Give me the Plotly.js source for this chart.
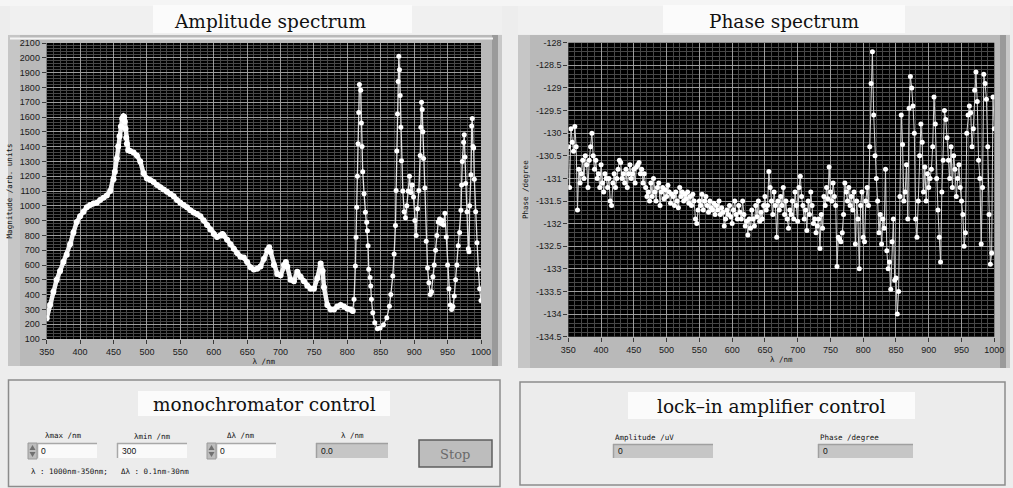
<!DOCTYPE html>
<html><head><meta charset="utf-8">
<script src="https://cdn.plot.ly/plotly-3.0.1.min.js"></script>
<style>html,body{margin:0;padding:0;background:#ededed;overflow:hidden}#chart{width:1013px;height:488px}</style>
</head><body><div id="chart"></div>
<script>
// ---------- data ----------
const ampWavelength = [
350,355,360,365,370,375,380,385,390,395,
400,405,410,415,420,425,430,435,440,445,
450,452,455,457,459,461,463,465,466,467,
468,469,470,472,475,480,485,490,495,500,
505,510,515,520,525,530,535,540,545,550,
555,560,565,570,575,580,585,590,595,600,
605,610,613,615,620,625,630,635,640,645,
650,655,660,665,670,675,680,683,685,690,
695,700,705,708,710,715,720,725,730,735,
740,745,750,755,760,763,765,770,775,780,
785,790,795,800,805,808,810,812,813,814,
815,816,817,818,820,821,822,823,825,827,
829,830,831,832,834,835,836,838,841,845,
849,854,859,863,865,868,870,872,873,874,
875,876,877,878,879,880,881,883,885,887,
889,891,893,895,897,899,901,903,905,907,
909,910,911,912,913,914,916,918,920,922,
924,926,928,930,932,934,936,938,940,942,
944,946,948,950,952,954,956,958,960,962,
964,966,968,970,971,972,974,975,976,977,
979,981,982,983,985,986,987,988,989,990,
992,994,996,998,1000];
const ampMagnitude = [
240,330,420,500,560,620,670,740,820,890,
930,960,990,1005,1015,1020,1040,1055,1070,1100,
1180,1230,1320,1400,1470,1536,1590,1605,1600,1570,
1520,1460,1420,1375,1370,1360,1340,1300,1220,1185,
1175,1160,1140,1125,1110,1095,1080,1065,1040,1020,
1005,990,970,955,945,930,900,870,840,810,
790,800,810,800,770,740,710,680,655,650,
620,585,570,575,590,640,700,720,690,600,
540,530,600,620,590,500,490,555,520,490,
460,440,440,510,610,560,450,330,300,300,
320,330,320,305,300,290,368,594,787,991,
1200,1420,1630,1820,1780,1560,1400,1230,1082,957,
889,832,730,571,515,458,368,277,209,170,
175,197,243,322,401,526,674,867,1104,1370,
1620,1840,2010,1920,1745,1530,1305,1100,960,920,
1000,1100,1200,1090,1140,1060,900,800,980,1104,
1340,1530,1700,1650,1500,1320,1120,760,580,480,
400,420,520,600,700,800,890,910,880,900,
870,950,790,600,440,330,300,320,390,500,
600,730,820,970,1140,1300,1430,1480,1330,1150,
960,710,690,1000,1210,1540,1590,1400,1390,1180,
960,750,570,440,360];

const phaseWavelength = [
350,352,354,356,358,360,362,364,366,368,
370,372,374,376,378,380,382,384,386,388,
390,392,394,396,398,400,402,404,406,408,
410,412,414,416,418,420,422,424,426,428,
430,432,434,436,438,440,442,444,446,448,
450,452,454,456,458,460,462,464,466,468,
470,472,474,476,478,480,482,484,486,488,
490,492,494,496,498,500,502,504,506,508,
510,512,514,516,518,520,522,524,526,528,
530,532,534,536,538,540,542,544,546,548,
550,552,554,556,558,560,562,564,566,568,
570,572,574,576,578,580,582,584,586,588,
590,592,594,596,598,600,602,604,606,608,
610,612,614,616,618,620,622,624,626,628,
630,632,634,636,638,640,642,644,646,648,
650,652,654,656,658,660,662,664,666,668,
670,672,674,676,678,680,682,684,686,688,
690,692,694,696,698,700,702,704,706,708,
710,712,714,716,718,720,722,724,726,728,
730,732,734,736,738,740,742,744,746,748,
750,752,754,756,758,760,762,764,766,768,
770,772,774,776,778,780,782,784,786,788,
790,792,794,796,798,800,802,804,806,808,
810,812,814,816,818,820,822,824,826,828,
830,832,834,836,838,840,842,844,846,848,
850,852,854,856,858,860,862,864,866,868,
870,872,874,876,878,880,882,884,886,888,
890,892,894,896,898,900,902,904,906,908,
910,912,914,916,918,920,922,924,926,928,
930,932,934,936,938,940,942,944,946,948,
950,952,954,956,958,960,962,964,966,968,
970,972,974,976,978,980,982,984,986,988,
990,992,994,996,998,1000];
const phaseDegree = [
-130.3,-131.2,-129.9,-130.2,-130.4,-129.85,-130.3,-131.7,-130.8,-131.1,
-130.9,-130.6,-131.0,-130.5,-130.7,-131.2,-130.6,-130.3,-130.0,-130.5,
-130.8,-130.6,-131.0,-130.9,-131.2,-130.7,-131.1,-131.3,-130.9,-131.0,
-131.2,-131.0,-131.5,-131.6,-131.1,-130.9,-131.2,-131.0,-130.8,-130.6,
-130.65,-131.0,-130.9,-131.1,-130.8,-131.2,-130.9,-130.7,-131.0,-130.9,
-130.8,-131.1,-130.75,-130.7,-130.65,-130.9,-130.8,-131.1,-130.9,-131.2,
-131.4,-131.3,-131.5,-131.1,-131.4,-131.0,-131.3,-131.5,-131.2,-131.1,
-131.6,-131.3,-131.2,-131.45,-131.25,-131.4,-131.15,-131.3,-131.55,-131.35,
-131.4,-131.6,-131.3,-131.5,-131.65,-131.2,-131.4,-131.3,-131.5,-131.35,
-131.45,-131.3,-131.55,-131.4,-131.6,-131.35,-131.5,-131.9,-132.0,-131.7,
-131.5,-131.6,-131.35,-131.7,-131.5,-131.4,-131.6,-131.75,-131.5,-131.65,
-131.7,-131.55,-131.8,-131.6,-131.7,-131.5,-131.8,-131.65,-131.75,-132.05,
-131.9,-131.7,-131.8,-131.6,-131.85,-132.0,-131.7,-131.5,-131.8,-131.9,
-131.6,-131.75,-131.9,-131.5,-131.8,-132.05,-131.95,-132.25,-131.9,-132.1,
-131.7,-131.9,-132.05,-131.6,-131.85,-131.5,-131.95,-131.75,-131.9,-131.6,
-131.4,-131.7,-131.6,-130.85,-131.2,-131.5,-131.8,-131.3,-131.6,-132.3,
-131.5,-131.7,-131.4,-131.6,-131.2,-131.8,-131.5,-131.9,-132.1,-131.7,
-131.8,-131.5,-131.9,-131.3,-131.6,-131.95,-131.2,-130.95,-131.4,-131.6,
-131.9,-131.7,-132.15,-131.5,-131.8,-131.3,-131.6,-132.0,-131.9,-132.2,
-132.05,-131.9,-132.55,-131.8,-132.1,-131.4,-131.6,-131.2,-131.45,-130.75,
-131.3,-131.5,-131.1,-131.4,-131.6,-132.95,-132.3,-132.35,-132.4,-132.2,
-131.8,-131.1,-131.3,-131.5,-131.2,-131.6,-131.4,-131.7,-131.3,-132.45,
-131.5,-131.9,-133.0,-131.6,-131.3,-132.3,-132.4,-131.5,-131.2,-131.6,
-130.3,-128.9,-128.2,-129.6,-130.5,-131.0,-131.5,-132.2,-131.8,-132.45,
-131.9,-132.1,-130.8,-132.6,-133.0,-132.85,-133.45,-132.4,-131.9,-133.25,
-133.2,-134.0,-133.5,-131.4,-129.6,-130.25,-131.5,-131.3,-130.7,-131.9,
-129.45,-128.75,-129.0,-129.4,-130.0,-131.9,-132.3,-131.5,-130.5,-129.8,
-130.2,-131.3,-130.75,-131.5,-130.9,-131.2,-131.0,-130.8,-130.3,-129.2,
-129.8,-131.0,-131.7,-132.3,-132.85,-131.3,-130.6,-129.5,-129.7,-130.1,
-130.6,-131.0,-130.3,-131.2,-130.5,-130.8,-131.4,-131.0,-130.7,-131.2,
-131.5,-131.8,-132.5,-132.2,-130.0,-129.6,-129.4,-129.55,-130.3,-129.9,
-129.05,-128.65,-129.3,-130.6,-131.0,-132.45,-131.2,-128.7,-128.9,-129.25,
-130.3,-131.8,-132.9,-132.65,-129.2,-129.9];

const phaseTickVals = [-134.5,-134,-133.5,-133,-132.5,-132,-131.5,-131,-130.5,-130,-129.5,-129,-128.5,-128];
const phaseTickText = ['-134.5','-134','-133.5','-133','-132.5','-132','-131.5','-131','-130.5','-130','-129.5','-129','-128.5','-128'];

// ---------- layout helpers ----------
const W = 1013, H = 488;
const fx = v => v / W, fy = v => 1 - v / H;
function rect(x0, y0, x1, y1, fill, lineColor, lw) {
  return {type:'rect', xref:'paper', yref:'paper', x0:fx(x0), x1:fx(x1), y0:fy(y1), y1:fy(y0),
    fillcolor:fill, line:{color:lineColor||'rgba(0,0,0,0)', width:lineColor?(lw||1):0}, layer:'below'};
}
function hline(x0, x1, y, color, w) {
  return {type:'line', xref:'paper', yref:'paper', x0:fx(x0), x1:fx(x1), y0:fy(y), y1:fy(y), line:{color:color, width:w||1}, layer:'below'};
}
function vline(x, y0, y1, color, w) {
  return {type:'line', xref:'paper', yref:'paper', x0:fx(x), x1:fx(x), y0:fy(y0), y1:fy(y1), line:{color:color, width:w||1}, layer:'below'};
}
function path(pts, fill) {
  let d = 'M' + pts.map(p => fx(p[0]) + ',' + fy(p[1])).join(' L') + ' Z';
  return {type:'path', xref:'paper', yref:'paper', path:d, fillcolor:fill, line:{width:0}, layer:'above'};
}
function txt(x, y, s, size, opts) {
  opts = opts || {};
  return Object.assign({xref:'paper', yref:'paper', x:fx(x), y:fy(y), text:s, showarrow:false,
    xanchor:'center', yanchor:'middle',
    font:{family:opts.family||'DejaVu Sans Mono, monospace', size:size, color:opts.color||'#111'}}, opts.extra||{});
}

const A = {l:46.7, r:481, t:43, b:339};      // amplitude plot area (px)
const P = {l:568.3, r:994.3, t:42.7, b:336.7}; // phase plot area (px)

const shapes = [
  rect(0,0,1013,6,'#f5f5f5'),
  rect(10,6,502,34,'#f0f0f0'),
  rect(518,6,1010,34,'#f0f0f0'),
  rect(153,5,412,33,'#fbfbfb'),
  rect(663,5,905,33,'#fbfbfb'),
  // amplitude frame
  rect(8,35,502,366,'#b9b9b9'),
  rect(8,35,20,366,'#c6c6c6'),
  rect(492,35,498,366,'#9a9a9a'),
  rect(498,35,502,366,'#c8c8c8'),
  hline(10,493,38.5,'#f4f4f4',2),
  rect(A.l,A.t,A.r,A.b,'#000000'),
  // phase frame
  rect(518,35,1010,368,'#b9b9b9'),
  rect(518,35,530,368,'#c6c6c6'),
  rect(1000,35,1006,368,'#9a9a9a'),
  rect(1006,35,1010,368,'#c8c8c8'),
  rect(P.l,P.t,P.r,P.b,'#000000'),
  // monochromator box
  rect(8.5,380,500,486.5,'#ececec','#8c8c8c',1.5),
  rect(138,391,390,416,'#fbfbfb'),
  // lock-in box
  rect(520,382,1005,485,'#ececec','#8c8c8c',1.5),
  rect(628,392,915,419,'#fbfbfb'),
  // numeric controls
  rect(28,443,37,459,'#bdbdbd','#9a9a9a',1),
  rect(37,443,97,458,'#fafafa'), hline(37,97,443.5,'#a8a8a8',1.5), vline(37.5,443,458,'#a8a8a8',1.5),
  rect(117,443,187,458,'#fafafa'), hline(117,187,443.5,'#a8a8a8',1.5), vline(117.5,443,458,'#a8a8a8',1.5),
  rect(207,443,216,459,'#bdbdbd','#9a9a9a',1),
  rect(216,443,276,458,'#fafafa'), hline(216,276,443.5,'#a8a8a8',1.5), vline(216.5,443,458,'#a8a8a8',1.5),
  rect(316,443,388,458,'#c6c6c6'), hline(316,388,443.5,'#a0a0a0',1.5), vline(316.5,443,458,'#a0a0a0',1.5),
  rect(419,440,492,467,'#bdbdbd','#5e5e5e',1.5),
  rect(613,444,713,458,'#c6c6c6'), hline(613,713,444.5,'#a0a0a0',1.5), vline(613.5,444,458,'#a0a0a0',1.5),
  rect(818,444,913,458,'#c6c6c6'), hline(818,913,444.5,'#a0a0a0',1.5), vline(818.5,444,458,'#a0a0a0',1.5),
  path([[29.5,450],[35.5,450],[32.5,445]],'#707070'),
  path([[29.5,452],[35.5,452],[32.5,457]],'#707070'),
  path([[208.5,450],[214.5,450],[211.5,445]],'#707070'),
  path([[208.5,452],[214.5,452],[211.5,457]],'#707070')
];

const serif = 'DejaVu Serif, serif';
const annotations = [
  txt(270,21,'Amplitude spectrum',18.5,{family:serif}),
  txt(784,21,'Phase spectrum',18.5,{family:serif}),
  txt(264,404,'monochromator control',18.5,{family:serif}),
  txt(771,406,'lock–in amplifier control',18.5,{family:serif}),
  txt(63,435,'λmax /nm',7.5),
  txt(152,436,'λmin /nm',7.5),
  txt(241,435,'Δλ /nm',7.5),
  txt(352,435,'λ /nm',7.5),
  txt(39,451,'0',8.5,{family:'Liberation Sans, sans-serif', extra:{xanchor:'left'}}),
  txt(120,451,'300',8.5,{family:'Liberation Sans, sans-serif', extra:{xanchor:'left'}}),
  txt(218,451,'0',8.5,{family:'Liberation Sans, sans-serif', extra:{xanchor:'left'}}),
  txt(319,451,'0.0',8.5,{family:'Liberation Sans, sans-serif', extra:{xanchor:'left'}}),
  txt(455,454,'Stop',13,{family:serif, color:'#6a6a6a'}),
  txt(29,471,'λ : 1000nm-350nm;',7.5,{extra:{xanchor:'left'}}),
  txt(119,471,'Δλ : 0.1nm-30nm',7.5,{extra:{xanchor:'left'}}),
  txt(613,437,'Amplitude /uV',7.5,{extra:{xanchor:'left'}}),
  txt(818,437,'Phase /degree',7.5,{extra:{xanchor:'left'}}),
  txt(616,451,'0',8.5,{family:'Liberation Sans, sans-serif', extra:{xanchor:'left'}}),
  txt(821,451,'0',8.5,{family:'Liberation Sans, sans-serif', extra:{xanchor:'left'}})
];

const tickFont = {family:'Liberation Sans, sans-serif', size:9, color:'#1a1a1a'};
const titleFont = {family:'DejaVu Sans Mono, monospace', size:7.5, color:'#111'};
const common = {
  showgrid:true, gridcolor:'#9c9c9c', gridwidth:1, zeroline:false, showline:false,
  ticks:'outside', ticklen:4, tickcolor:'#3a3a3a', tickwidth:1, tickfont:tickFont, fixedrange:true
};

const layout = {
  width:W, height:H, margin:{l:0,r:0,t:0,b:0},
  paper_bgcolor:'#ededed', plot_bgcolor:'#000000', showlegend:false,
  xaxis: Object.assign({}, common, {domain:[fx(A.l),fx(A.r)], range:[350,1000], tick0:350, dtick:50, anchor:'y',
    minor:{tick0:350, dtick:10, showgrid:true, gridcolor:'#474747', gridwidth:1},
    title:{text:'λ /nm', font:titleFont, standoff:2}}),
  yaxis: Object.assign({}, common, {domain:[fy(A.b),fy(A.t)], range:[100,2100], tick0:100, dtick:100, anchor:'x',
    minor:{tick0:100, dtick:20, showgrid:true, gridcolor:'#474747', gridwidth:1},
    title:{text:'Magnitude /arb. units', font:titleFont, standoff:6}}),
  xaxis2: Object.assign({}, common, {domain:[fx(P.l),fx(P.r)], range:[350,1000], tick0:350, dtick:50, anchor:'y2',
    minor:{tick0:350, dtick:10, showgrid:true, gridcolor:'#474747', gridwidth:1},
    title:{text:'λ /nm', font:titleFont, standoff:2}}),
  yaxis2: Object.assign({}, common, {domain:[fy(P.b),fy(P.t)], range:[-134.5,-128], anchor:'x2',
    tickmode:'array', tickvals:phaseTickVals, ticktext:phaseTickText,
    minor:{tickmode:'linear', tick0:-134.5, dtick:0.1, showgrid:true, gridcolor:'#474747', gridwidth:1},
    title:{text:'Phase /degree', font:titleFont, standoff:6}}),
  shapes: shapes,
  annotations: annotations
};

// smooth part of the amplitude record (up to 808 nm) is drawn as a thick band, like the dense original record
const smoothEnd = ampWavelength.indexOf(808) + 1;
const traces = [
  {type:'scatter', mode:'lines+markers', x:ampWavelength.slice(0, smoothEnd), y:ampMagnitude.slice(0, smoothEnd), xaxis:'x', yaxis:'y',
   line:{color:'#f2f2f2', width:4.5}, marker:{color:'#ffffff', size:6}, hoverinfo:'skip'},
  {type:'scatter', mode:'lines+markers', x:ampWavelength.slice(smoothEnd - 1), y:ampMagnitude.slice(smoothEnd - 1), xaxis:'x', yaxis:'y',
   line:{color:'#e0e0e0', width:1.3}, marker:{color:'#ffffff', size:5}, hoverinfo:'skip'},
  {type:'scatter', mode:'lines+markers', x:phaseWavelength, y:phaseDegree, xaxis:'x2', yaxis:'y2',
   line:{color:'#d4d4d4', width:1}, marker:{color:'#ffffff', size:5}, hoverinfo:'skip'}
];

Plotly.newPlot('chart', traces, layout, {staticPlot:true, displayModeBar:false});
</script>
</body></html>
